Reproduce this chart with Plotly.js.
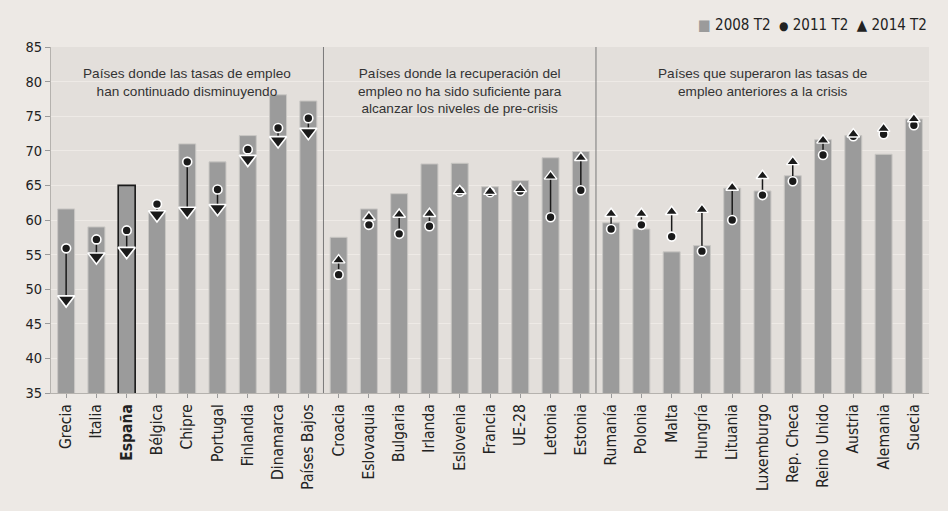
<!DOCTYPE html>
<html>
<head>
<meta charset="utf-8">
<script src="https://cdn.plot.ly/plotly-3.0.1.min.js"></script>
<style>html,body{margin:0;padding:0;background:#ede9e5;}#chart{width:948px;height:511px;}</style>
</head>
<body>
<div id="chart"></div>
<script>
const countries = ["Grecia","Italia","España","Bélgica","Chipre","Portugal","Finlandia","Dinamarca","Países Bajos",
  "Croacia","Eslovaquia","Bulgaria","Irlanda","Eslovenia","Francia","UE-28","Letonia","Estonia",
  "Rumanía","Polonia","Malta","Hungría","Lituania","Luxemburgo","Rep. Checa","Reino Unido","Austria","Alemania","Suecia"];
const rate2008 = [61.6,59.0,65.0,61.4,71.0,68.4,72.2,78.1,77.2,
  57.5,61.6,63.8,68.1,68.2,64.8,65.7,69.0,69.9,
  59.6,58.7,55.4,56.3,64.6,64.2,66.4,71.6,72.2,69.5,74.6];
const rate2011 = [55.9,57.2,58.5,62.3,68.4,64.4,70.2,73.3,74.7,
  52.1,59.3,58.0,59.1,64.1,64.0,64.2,60.4,64.3,
  58.7,59.3,57.6,55.5,60.0,63.6,65.6,69.4,72.1,72.4,73.7];
const rate2014 = [48.5,54.7,55.5,60.8,61.3,61.7,68.8,71.5,72.7,
  54.2,60.4,60.8,60.9,64.2,64.1,64.5,66.3,69.0,
  60.9,60.9,61.2,61.5,64.7,66.4,68.4,71.5,72.4,73.2,74.6];
const seriesNames = ["2008 T2","2011 T2","2014 T2"];
const groupLabels = ["Países donde las tasas de empleo<br>han continuado disminuyendo",
  "Países donde la recuperación del<br>empleo no ha sido suficiente para<br>alcanzar los niveles de pre-crisis",
  "Países que superaron las tasas de<br>empleo anteriores a la crisis"];
const groupStarts = [0, 9, 18];
const groupEnds = [8, 17, 28];
const highlight = "España";

const idx = countries.map((c,i)=>i);
const tickFont = "'Liberation Sans Narrow','DejaVu Sans Condensed','Roboto Condensed',sans-serif";

// connector segments from 2011 to 2014
const segX = [], segY = [];
idx.forEach(i => { segX.push(i, i, null); segY.push(rate2011[i], rate2014[i], null); });

const downI = idx.filter(i => rate2014[i] < rate2011[i] && i <= groupEnds[0]);
const upI = idx.filter(i => downI.indexOf(i) < 0);

const traces = [
  {type:'bar', x: idx, y: rate2008, name:seriesNames[0], width:0.56,
   marker:{color:'#9b9b9b', line:{color: countries.map(c => c===highlight ? '#1a1a1a' : '#c9c7c4'),
     width: countries.map(c => c===highlight ? 1.6 : 1)}}, hoverinfo:'y'},
  {type:'scatter', mode:'lines', x: segX, y: segY,
   line:{color:'#1a1a1a', width:1.5}, hoverinfo:'skip'},
  {type:'scatter', mode:'markers', x: idx, y: rate2011, name:seriesNames[1],
   marker:{symbol:'circle', size:9, color:'#1a1a1a', line:{color:'#ffffff', width:1.6}}},
  {type:'scatter', mode:'markers', x: downI, y: downI.map(i=>rate2014[i]), name:seriesNames[2],
   marker:{symbol:'triangle-down', size:15, color:'#1a1a1a', line:{color:'#ffffff', width:1.6}}},
  {type:'scatter', mode:'markers', x: upI, y: upI.map(i=>rate2014[i]), name:seriesNames[2],
   marker:{symbol:'triangle-up', size:11, color:'#1a1a1a', line:{color:'#ffffff', width:1.4}}}
];

const annotations = groupLabels.map((t,g) => ({
  x: (groupStarts[g]+groupEnds[g])/2, y: 82.5, xref:'x', yref:'y', yanchor:'top', xanchor:'center',
  text: t, showarrow:false, align:'center',
  font:{family:'Liberation Sans, Arial, sans-serif', size:13.6, color:'#333333'}
}));

// legend drawn as text line (compact, like the reference)
const legendText =
  "<span style='color:#9b9b9b;font-size:15px'>■</span> " + seriesNames[0] + "  " +
  "<span style='font-size:12px'>●</span> " + seriesNames[1] + "  " +
  "<span style='font-size:15px'>▲</span> " + seriesNames[2];
annotations.push({
  x: 1.0, y: 1.064, xref:'paper', yref:'paper', xanchor:'right', yanchor:'middle',
  text: legendText, showarrow:false,
  font:{family:tickFont, size:15, color:'#222222'}
});

const shapes = [groupEnds[0]+0.5, groupEnds[1]+0.5].map(xv => ({
  type:'line', xref:'x', yref:'y', x0:xv, x1:xv, y0:35, y1:85,
  line:{color:'#7a7a7a', width:1}
}));

const layout = {
  width:948, height:511,
  paper_bgcolor:'#ede9e5', plot_bgcolor:'#e3dfdb',
  margin:{l:51, r:19, t:47, b:118, autoexpand:false},
  showlegend:false,
  xaxis:{range:[-0.5, countries.length-0.5], tickmode:'array', tickvals: idx,
    ticktext: countries.map(c => c===highlight ? '<b>'+c+'</b>' : c),
    tickangle:-90, tickson:'boundaries', ticks:'outside', ticklen:4, tickcolor:'#9a9a9a',
    showline:true, linecolor:'#b5b2ae', linewidth:1, showgrid:false, zeroline:false,
    tickfont:{family:tickFont, size:15.5, color:'#222'}, fixedrange:true},
  yaxis:{range:[35,85], dtick:5, tick0:35, ticks:'outside', ticklen:5, tickcolor:'#9a9a9a',
    showline:true, linecolor:'#b5b2ae', linewidth:1, gridcolor:'#eeeae6', gridwidth:1,
    zeroline:false, tickfont:{family:tickFont, size:14.5, color:'#222'}, fixedrange:true},
  annotations: annotations,
  shapes: shapes,
  bargap:0.44
};

Plotly.newPlot('chart', traces, layout, {displayModeBar:false, staticPlot:true});
</script>
</body>
</html>
